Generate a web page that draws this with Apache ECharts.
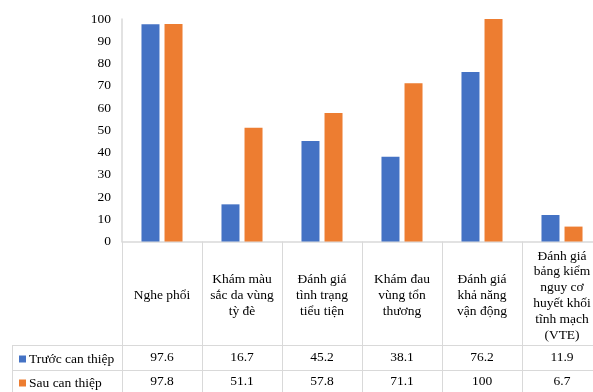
<!DOCTYPE html>
<html><head><meta charset="utf-8">
<script src="https://cdn.jsdelivr.net/npm/echarts@6/dist/echarts.min.js"></script>
<style>html,body{margin:0;padding:0;background:#fff;overflow:hidden}#c{width:610px;height:392px}</style>
</head><body><div id="c"></div>
<script>
var categories = ["Nghe phổi", "Khám màu\nsắc da vùng\ntỳ đè", "Đánh giá\ntình trạng\ntiểu tiện", "Khám đau\nvùng tổn\nthương", "Đánh giá\nkhả năng\nvận động", "Đánh giá\nbảng kiểm\nnguy cơ\nhuyết khối\ntĩnh mạch\n(VTE)"];
var seriesNames = ["Trước can thiệp", "Sau can thiệp"];
var before = [97.6, 16.7, 45.2, 38.1, 76.2, 11.9];
var after = [97.8, 51.1, 57.8, 71.1, 100, 6.7];

var FONT = "'Liberation Serif', 'DejaVu Serif', serif";
var FS = 13.5;
var LINE = '#d9d9d9';
var chart = echarts.init(document.getElementById('c'));
var gridLeft = 122, gridTop = 19, gridH = 222.5, gridW = 480;
function rowAxis(vals, margin) {
  return {
    type: 'category', data: vals.map(String), position: 'bottom', gridIndex: 0,
    axisLine: {show: false}, axisTick: {show: false}, splitLine: {show: false},
    axisLabel: {interval: 0, margin: margin, verticalAlign: 'middle', color: '#000', fontFamily: FONT, fontSize: FS}
  };
}
function legendFor(name, top) {
  return {
    left: 14, top: top, itemWidth: 7, itemHeight: 7, icon: 'rect', data: [name],
    selectedMode: false,
    textStyle: {color: '#000', fontFamily: FONT, fontSize: FS, padding: [0, 0, 0, -2]}
  };
}
chart.setOption({
  animation: false,
  textStyle: {fontFamily: FONT},
  grid: {left: gridLeft, top: gridTop, width: gridW, height: gridH},
  legend: [legendFor(seriesNames[0], 347), legendFor(seriesNames[1], 371)],
  xAxis: [
    {
      type: 'category', data: categories,
      axisLine: {lineStyle: {color: LINE, width: 1.5}}, axisTick: {show: false},
      axisLabel: {interval: 0, margin: 54, verticalAlign: 'middle', lineHeight: 15.8, color: '#000', fontFamily: FONT, fontSize: FS, align: 'center'}
    },
    rowAxis(before, 116),
    rowAxis(after, 140)
  ],
  yAxis: {
    type: 'value', min: 0, max: 100, interval: 10,
    axisLine: {show: true, lineStyle: {color: LINE, width: 1.5}}, axisTick: {show: false},
    splitLine: {show: false},
    axisLabel: {margin: 11, color: '#000', fontFamily: FONT, fontSize: FS}
  },
  series: [
    {name: seriesNames[0], type: 'bar', data: before, barWidth: 18, barGap: '28%', itemStyle: {color: '#4472C4'}},
    {name: seriesNames[1], type: 'bar', data: after, barWidth: 18, itemStyle: {color: '#ED7D31'}}
  ]
});

// table lines derived from axis scale
var p0 = chart.convertToPixel({xAxisIndex: 0}, 0);
var p1 = chart.convertToPixel({xAxisIndex: 0}, 1);
var band = p1 - p0;
var axisY = chart.convertToPixel({yAxisIndex: 0}, 0);
var row1Top = 345, row2Top = 370, bottom = 393;
var els = [];
for (var i = 0; i <= categories.length; i++) {
  var x = Math.round(p0 - band / 2 + i * band) + 0.5;
  els.push({type: 'line', shape: {x1: x, y1: axisY, x2: x, y2: bottom}, style: {stroke: LINE, lineWidth: 1}});
}
[row1Top, row2Top].forEach(function (y) {
  els.push({type: 'line', shape: {x1: 12, y1: y + 0.5, x2: 610, y2: y + 0.5}, style: {stroke: LINE, lineWidth: 1}});
});
els.push({type: 'line', shape: {x1: 12.5, y1: row1Top, x2: 12.5, y2: bottom}, style: {stroke: LINE, lineWidth: 1}});
chart.setOption({graphic: els});
</script></body></html>
